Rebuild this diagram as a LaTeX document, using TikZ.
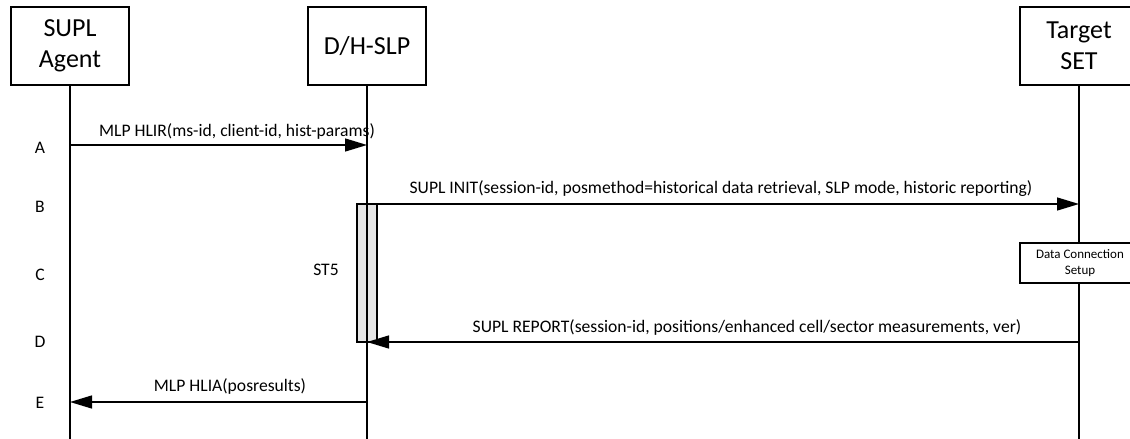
\documentclass[tikz,border=0pt]{standalone}
\usepackage{fontspec}
\setmainfont{Carlito}
\usetikzlibrary{arrows.meta}
\definecolor{actfill}{HTML}{E6E6E6}
\tikzset{
  entity/.style={draw, line width=1.4pt, minimum width=118pt, minimum height=78pt, inner sep=0pt, align=center, font=\fontsize{26}{31}\selectfont},
  lifeline/.style={line width=1.4pt},
  msg/.style={line width=1.4pt, -{Triangle[length=22pt,width=13pt]}},
  msgtext/.style={font=\fontsize{17.6}{21}\selectfont, inner sep=0pt},
  steplabel/.style={font=\fontsize{17.6}{21}\selectfont, inner sep=0pt},
  actbox/.style={draw, line width=1.3pt, fill=actfill},
  smallbox/.style={draw, fill=white, line width=1.3pt, minimum width=120pt, minimum height=40pt, inner sep=0pt, align=center, font=\fontsize{13}{16}\selectfont}
}
\begin{document}
\begin{tikzpicture}[x=1pt,y=-1pt]
\useasboundingbox (0,0) rectangle (1130,439);
\clip (0,0) rectangle (1130,439);
% entities
\node[entity] (agent) at (70,46) {SUPL\\Agent};
\node[entity] (slp) at (367,46) {D/H-SLP};
\node[entity] (set) at (1079,46) {Target\\SET};
% lifeline ends
\coordinate (agentend) at (70,439);
\coordinate (slpend) at (367,439);
\coordinate (setend) at (1079,439);
\draw[lifeline] (agent.south) -- (agentend);
\draw[lifeline] (slp.south) -- (slpend);
\draw[lifeline] (set.south) -- (setend);
% activation
\draw[actbox] (357,204) rectangle (377,342);
\draw[lifeline] (367,204) -- (367,342);
% data connection box
\node[smallbox] (dcs) at (1080,263) {Data Connection\\Setup};
% message coordinates
\coordinate (a1) at (70,145);
\coordinate (a2) at (367,145);
\coordinate (b1) at (377,204);
\coordinate (b2) at (1079,204);
\coordinate (d1) at (1079,342);
\coordinate (d2) at (367,342);
\coordinate (e1) at (367,402);
\coordinate (e2) at (70,402);
\draw[msg] (a1) -- (a2);
\draw[msg] (b1) -- (b2);
\draw[msg] (d1) -- (d2);
\draw[msg] (e1) -- (e2);
% message labels
\node[msgtext] (la) at (237,131) {MLP HLIR(ms-id, client-id, hist-params)};
\node[msgtext] (lb) at (721,189) {SUPL INIT(session-id, posmethod=historical data retrieval, SLP mode, historic reporting)};
\node[msgtext] (ld) at (747,327) {SUPL REPORT(session-id, positions/enhanced cell/sector measurements, ver)};
\node[msgtext] (le) at (230,386) {MLP HLIA(posresults)};
\node[msgtext] (st5) at (326,270) {ST5};
% step labels
\node[steplabel] (sA) at (40,148) {A};
\node[steplabel] (sB) at (40,207) {B};
\node[steplabel] (sC) at (40,275) {C};
\node[steplabel] (sD) at (40,342) {D};
\node[steplabel] (sE) at (40,403) {E};
\end{tikzpicture}
\end{document}
